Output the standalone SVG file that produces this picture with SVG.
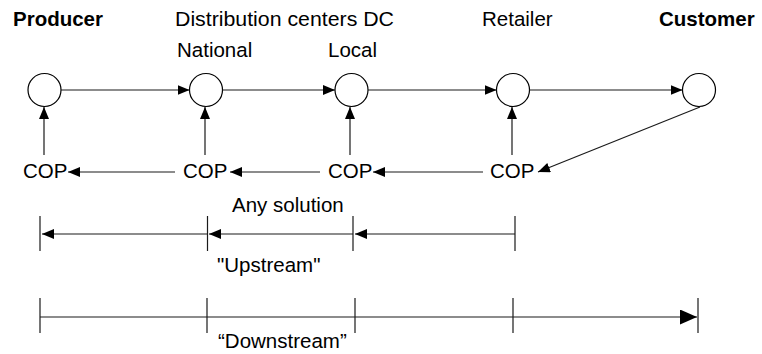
<svg xmlns="http://www.w3.org/2000/svg" width="762" height="354" viewBox="0 0 762 354">
<defs>
<style>
text{font-family:"Liberation Sans",Arial,sans-serif;font-size:20.5px;fill:#000}
.b{font-weight:bold}
.n{fill:#fff;stroke:#000;stroke-width:1.2}
.c{stroke:#1a1a1a;stroke-width:1.2;fill:none}
.a{marker-end:url(#ah)}
.A{marker-end:url(#ahl)}
</style>
<marker id="ah" markerUnits="userSpaceOnUse" markerWidth="13" markerHeight="11" refX="12" refY="5" orient="auto">
<path d="M0,0 L12,5 L0,10 z" fill="#000"/>
</marker>
<marker id="ahl" markerUnits="userSpaceOnUse" markerWidth="18" markerHeight="16" refX="17" refY="7.5" orient="auto">
<path d="M0,0 L17,7.5 L0,15 z" fill="#000"/>
</marker>
</defs>
<rect width="762" height="354" fill="#fff"/>
<g id="headers">
<text x="13" y="26" class="b">Producer</text>
<text x="175" y="26" textLength="219" lengthAdjust="spacingAndGlyphs">Distribution centers DC</text>
<text x="482" y="26">Retailer</text>
<text x="659" y="26" class="b">Customer</text>
<text x="177" y="57">National</text>
<text x="328" y="57">Local</text>
</g>
<g id="producer"><circle class="n" cx="44.5" cy="90" r="16.5"/></g>
<g id="national"><circle class="n" cx="206" cy="90" r="16.5"/></g>
<g id="local"><circle class="n" cx="351.5" cy="90" r="16.5"/></g>
<g id="retailer"><circle class="n" cx="513" cy="90" r="16.5"/></g>
<g id="customer"><circle class="n" cx="699" cy="90" r="16.5"/></g>
<g id="cop1"><text x="23" y="178">COP</text></g>
<g id="cop2"><text x="183" y="178">COP</text></g>
<g id="cop3"><text x="328" y="178">COP</text></g>
<g id="cop4"><text x="490" y="178">COP</text></g>
<g id="connectors">
<line class="c a" x1="61" y1="90" x2="189.5" y2="90"/>
<line class="c a" x1="222.5" y1="90" x2="335" y2="90"/>
<line class="c a" x1="368" y1="90" x2="496.5" y2="90"/>
<line class="c a" x1="529.5" y1="90" x2="682.5" y2="90"/>
<line class="c a" x1="700" y1="107" x2="538" y2="172"/>
<line class="c a" x1="44" y1="155" x2="44" y2="107"/>
<line class="c a" x1="205" y1="155" x2="205" y2="107"/>
<line class="c a" x1="350" y1="155" x2="350" y2="107"/>
<line class="c a" x1="512" y1="155" x2="512" y2="107"/>
<line class="c a" x1="175" y1="172" x2="68" y2="172"/>
<line class="c a" x1="320" y1="172" x2="230" y2="172"/>
<line class="c a" x1="483" y1="172" x2="373" y2="172"/>
</g>
<g id="upstream">
<text x="232" y="212">Any solution</text>
<line class="c" x1="40" y1="216" x2="40" y2="251"/>
<line class="c" x1="207.5" y1="216" x2="207.5" y2="251"/>
<line class="c" x1="353" y1="216" x2="353" y2="251"/>
<line class="c" x1="515" y1="216" x2="515" y2="251"/>
<line class="c a" x1="207.5" y1="234" x2="42" y2="234"/>
<line class="c a" x1="353" y1="234" x2="209" y2="234"/>
<line class="c a" x1="515" y1="234" x2="355" y2="234"/>
<text x="217" y="272">"Upstream"</text>
</g>
<g id="downstream">
<line class="c" x1="40" y1="298" x2="40" y2="333"/>
<line class="c" x1="207" y1="298" x2="207" y2="333"/>
<line class="c" x1="355" y1="298" x2="355" y2="333"/>
<line class="c" x1="513" y1="298" x2="513" y2="333"/>
<line class="c" x1="698" y1="298" x2="698" y2="333"/>
<line class="c A" x1="40" y1="317" x2="697" y2="317"/>
<text x="218" y="348">“Downstream”</text>
</g>
</svg>
